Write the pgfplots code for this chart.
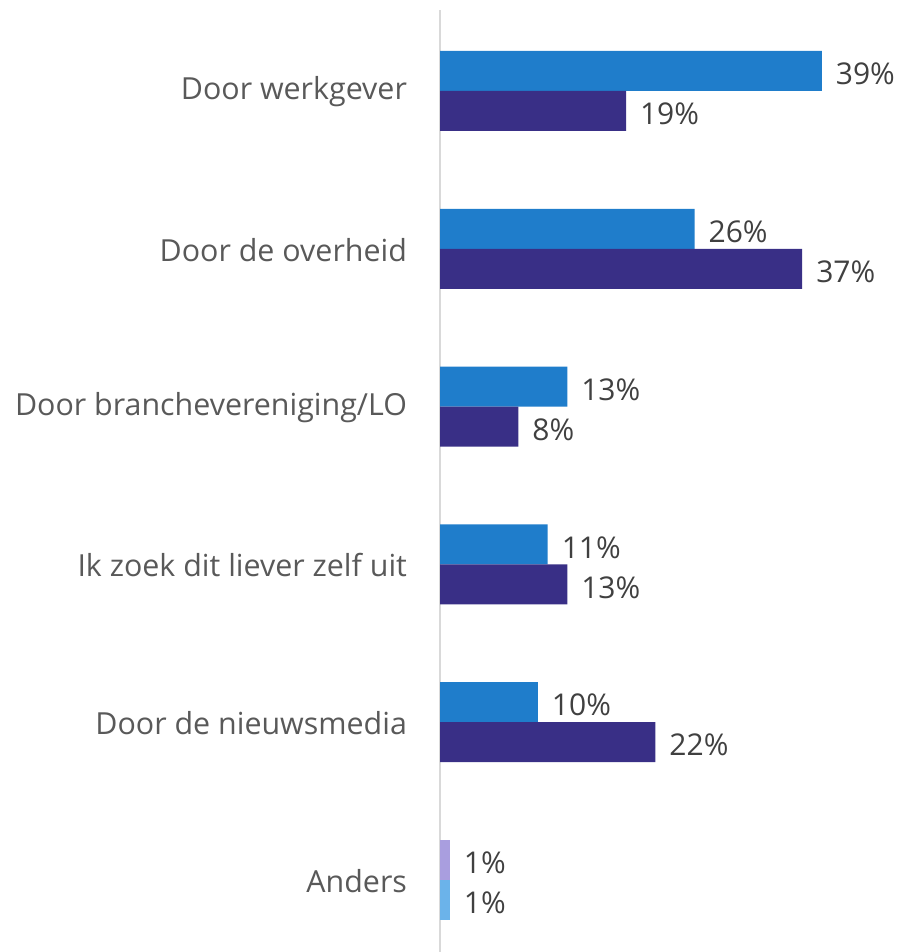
\documentclass[border=0pt]{standalone}
\usepackage{fontspec}
\setmainfont{Open Sans}
\usepackage{pgfplots}
\pgfplotsset{compat=1.18}
\definecolor{sA}{HTML}{1F7DCB}
\definecolor{sB}{HTML}{392F86}
\definecolor{sC}{HTML}{A99EDF}
\definecolor{sD}{HTML}{6BB3EA}
\definecolor{lbl}{HTML}{595959}
\definecolor{val}{HTML}{404040}
\definecolor{axg}{HTML}{D9D9D9}
\begin{document}
\begin{tikzpicture}
\useasboundingbox (0,0) rectangle (451pt,476pt);
\begin{axis}[
 at={(220pt,0pt)}, anchor=south west,
 scale only axis, width=220.275pt, height=471pt,
 xmin=0, xmax=45, ymin=-0.456, ymax=5.513,
 xbar, bar width=20pt,
 hide x axis,
 axis y line=left, y axis line style={axg, line width=1pt, -},
 ytick={0,...,5},
 yticklabels={Anders, Door de nieuwsmedia, Ik zoek dit liever zelf uit\ , Door branchevereniging/LO, Door de overheid, Door werkgever},
 major tick length=0pt,
 yticklabel style={font=\fontsize{15.2}{17}\selectfont, text=lbl, xshift=-13pt, yshift=-0.5pt},
 point meta=x,
 nodes near coords={\pgfmathprintnumber{\pgfplotspointmeta}\%},
 nodes near coords align=horizontal,
 every node near coord/.append style={font=\fontsize{15}{17}\selectfont, text=val, xshift=3.5pt, yshift=-1.5pt},
 /pgf/number format/assume math mode=true,
]
\addplot[fill=sA, draw=none, bar shift=10pt] coordinates {(39,5) (26,4) (13,3) (11,2) (10,1)};
\addplot[fill=sB, draw=none, bar shift=-10pt] coordinates {(19,5) (37,4) (8,3) (13,2) (22,1)};
\addplot[fill=sC, draw=none, bar shift=10pt] coordinates {(1,0)};
\addplot[fill=sD, draw=none, bar shift=-10pt] coordinates {(1,0)};
\end{axis}
\end{tikzpicture}
\end{document}
